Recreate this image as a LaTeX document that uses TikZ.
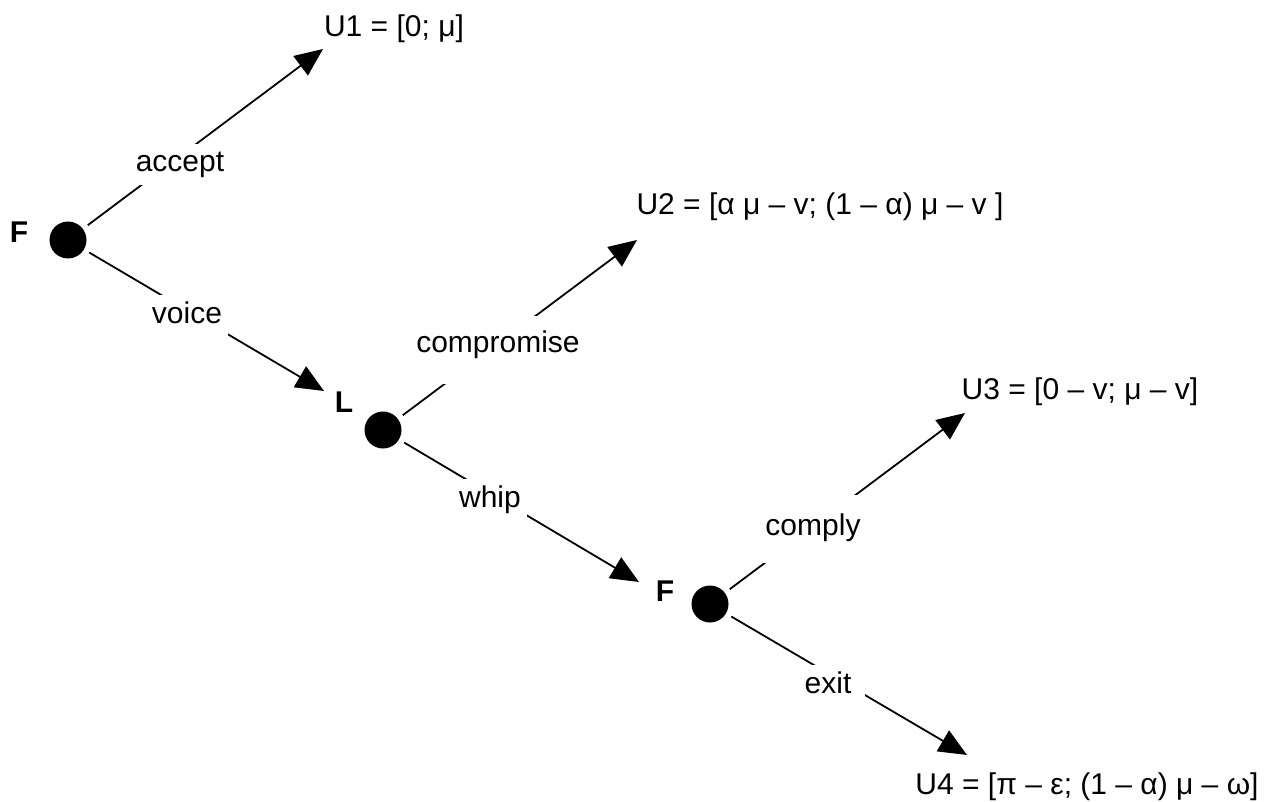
\documentclass[tikz,border=0pt]{standalone}
\usepackage{fontspec}
\setmainfont{Liberation Sans}
\usetikzlibrary{arrows.meta}
\begin{document}
\begin{tikzpicture}[x=1pt,y=-1pt,
  every node/.style={font=\fontsize{30}{36}\selectfont},
  dot/.style={circle,fill=black,draw=none,minimum size=37pt,inner sep=0pt},
  player/.style={anchor=base,font=\fontsize{30}{36}\selectfont\bfseries,inner sep=0pt},
  payoff/.style={anchor=base,inner sep=0pt},
  lbl/.style={anchor=base,fill=white,text height=22pt,text depth=7pt,inner xsep=6pt,inner ysep=6pt},
  branch/.style={line width=1.8pt,shorten <=6pt,-{Triangle[length=28pt,width=24pt]}}]
\useasboundingbox (0,0) rectangle (1268,802);
% decision nodes
\node[dot] (F1) at (68,240) {};
\node[dot] (L) at (383,430) {};
\node[dot] (F2) at (710,604) {};
% arrow tips
\coordinate (t1) at (323,49);
\coordinate (t2) at (324,391);
\coordinate (t3) at (637,240);
\coordinate (t4) at (639,582);
\coordinate (t5) at (965,413);
\coordinate (t6) at (967,755);
% branches
\draw[branch] (F1) -- (t1);
\draw[branch] (F1) -- (t2);
\draw[branch] (L) -- (t3);
\draw[branch] (L) -- (t4);
\draw[branch] (F2) -- (t5);
\draw[branch] (F2) -- (t6);
% branch labels
\node[lbl] (accept) at (180,172) {accept};
\node[lbl] (voice) at (187,323) {voice};
\node[lbl,text height=26pt,text depth=22pt,inner ysep=10pt] (compromise) at (498,352) {compromise};
\node[lbl] (whip) at (490,507) {whip};
\node[lbl,text height=28pt,text depth=16pt,inner ysep=12pt] (comply) at (813,535) {comply};
\node[lbl,inner xsep=14pt] (exit) at (828,693) {exit};
% player labels
\node[player] (pF1) at (19,243) {F};
\node[player] (pL) at (344,412) {L};
\node[player] (pF2) at (665,601) {F};
% payoffs
\node[payoff] (U1) at (394,37) {U1 = [0; μ]};
\node[payoff] (U2) at (820,215) {U2 = [α μ – v; (1 – α) μ – v ]};
\node[payoff] (U3) at (1080,399) {U3 = [0 – v; μ – v]};
\node[payoff] (U4) at (1087,794) {U4 = [π – ε; (1 – α) μ – ω]};
\end{tikzpicture}
\end{document}
